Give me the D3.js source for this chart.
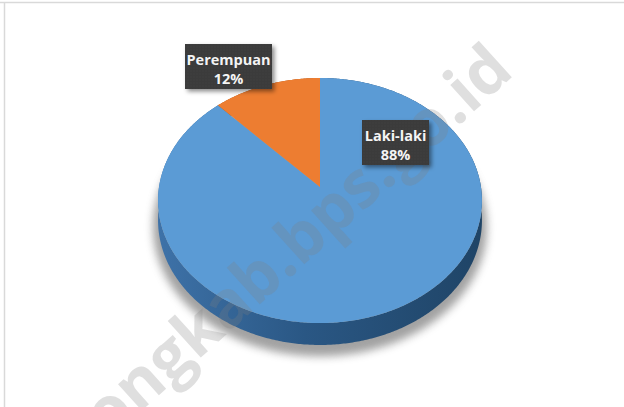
<!DOCTYPE html>
<html>
<head>
<meta charset="utf-8">
<script src="https://cdn.jsdelivr.net/npm/d3@7"></script>
<style>
  html, body { margin: 0; padding: 0; background: #ffffff; }
  svg { display: block; }
</style>
</head>
<body>
<svg id="chart" width="624" height="407"></svg>
<script>
// Share of workers by sex
const categories = ["Laki-laki", "Perempuan"];
const values = [88, 12];
const valueLabels = ["88%", "12%"];

const topColors = ["#5b9bd5", "#ed7d31"];
const sideColors = ["url(#sideBlue)", "#a8561f"];

// label box placement (centre x, centre y, width, height)
const labelBoxes = [
  { cx: 395.5, cy: 142.5, w: 67, h: 45 },
  { cx: 228.5, cy: 66.5, w: 87, h: 45 }
];

const W = 624, H = 407;
const svg = d3.select("#chart");
const defs = svg.append("defs");

// soft shadow under the disc
defs.append("filter").attr("id", "blur").attr("x", "-20%").attr("y", "-20%")
  .attr("width", "140%").attr("height", "140%")
  .append("feGaussianBlur").attr("stdDeviation", 4.5);

// drop shadow for the label boxes
const ds = defs.append("filter").attr("id", "boxShadow")
  .attr("x", "-20%").attr("y", "-20%").attr("width", "150%").attr("height", "160%");
ds.append("feDropShadow").attr("dx", 2.5).attr("dy", 2.5)
  .attr("stdDeviation", 2).attr("flood-color", "#000").attr("flood-opacity", 0.45);

// dotted texture for the label boxes
const pat = defs.append("pattern").attr("id", "dots")
  .attr("width", 3).attr("height", 3).attr("patternUnits", "userSpaceOnUse");
pat.append("rect").attr("width", 3).attr("height", 3).attr("fill", "#3a3a3a");
pat.append("rect").attr("x", 1).attr("y", 1).attr("width", 1).attr("height", 1).attr("fill", "#474747");

// side wall shading
const g1 = defs.append("linearGradient").attr("id", "sideBlue")
  .attr("gradientUnits", "userSpaceOnUse")
  .attr("x1", 158).attr("y1", 0).attr("x2", 484).attr("y2", 0);
g1.append("stop").attr("offset", "0%").attr("stop-color", "#3e72a8");
g1.append("stop").attr("offset", "45%").attr("stop-color", "#2a5784");
g1.append("stop").attr("offset", "100%").attr("stop-color", "#1f4466");

// frame lines (top and left)
svg.append("line").attr("x1", 0).attr("x2", W).attr("y1", 2.5).attr("y2", 2.5)
  .attr("stroke", "#d9d9d9").attr("stroke-width", 1.5);
svg.append("line").attr("x1", 4.5).attr("x2", 4.5).attr("y1", 2).attr("y2", H)
  .attr("stroke", "#d9d9d9").attr("stroke-width", 1.5);

// perspective projection of the tilted disc
const cx = 320, cy = 187, Dv = 9.07, Ay = 1098, Bx = 1460, depth = 19.5;
function proj(a, r, z) {
  const u = r * Math.sin(a), v = -r * Math.cos(a);
  const s = 1 / (Dv - v);
  return [cx + Bx * u * s, cy + Ay * v * s + z * depth * Dv * s];
}
function arcPoints(a0, a1, r, z) {
  const n = Math.max(2, Math.ceil((a1 - a0) / 0.01));
  return d3.range(n + 1).map(i => proj(a0 + (a1 - a0) * i / n, r, z));
}
const line = d3.line();

const pie = d3.pie().sort(null).value(d => d.value);
const arcs = pie(categories.map((c, i) => ({ name: c, value: values[i], i })));

// shadow below the disc
const shadowPts = arcPoints(0, 2 * Math.PI, 1.03, 1.3);
svg.append("path").attr("d", line(shadowPts) + "Z")
  .attr("fill", "#7a7a7a").attr("opacity", 0.7).attr("filter", "url(#blur)");

// side walls
svg.append("g").selectAll("path").data(arcs).join("path")
  .attr("d", d => {
    const topPts = arcPoints(d.startAngle, d.endAngle, 1, 0);
    const botPts = arcPoints(d.startAngle, d.endAngle, 1, 1).reverse();
    return line(topPts.concat(botPts)) + "Z";
  })
  .attr("fill", d => sideColors[d.data.i]);

// top faces
svg.append("g").selectAll("path").data(arcs).join("path")
  .attr("d", d => line([[cx, cy]].concat(arcPoints(d.startAngle, d.endAngle, 1, 0))) + "Z")
  .attr("fill", d => topColors[d.data.i]);

// site watermark
svg.append("text")
  .attr("transform", "translate(108,441) rotate(-42)")
  .attr("font-family", "'Open Sans', sans-serif")
  .attr("font-weight", 700)
  .attr("font-size", 65)
  .attr("fill", "#7f7f7f")
  .attr("fill-opacity", 0.25)
  .text("ongkab.bps.go.id");

// data labels
const lg = svg.append("g").selectAll("g").data(arcs).join("g")
  .attr("transform", d => `translate(${labelBoxes[d.data.i].cx},${labelBoxes[d.data.i].cy})`);
lg.append("rect")
  .attr("x", d => -labelBoxes[d.data.i].w / 2)
  .attr("y", d => -labelBoxes[d.data.i].h / 2)
  .attr("width", d => labelBoxes[d.data.i].w)
  .attr("height", d => labelBoxes[d.data.i].h)
  .attr("fill", "url(#dots)")
  .attr("filter", "url(#boxShadow)");
lg.append("text")
  .attr("text-anchor", "middle")
  .attr("font-family", "'Open Sans', sans-serif")
  .attr("font-weight", 700)
  .attr("font-size", 14.5)
  .attr("fill", "#f4f4f4")
  .selectAll("tspan")
  .data(d => [d.data.name, valueLabels[d.data.i]])
  .join("tspan")
  .attr("x", 0)
  .attr("y", (t, j) => j === 0 ? -1.5 : 17.5)
  .text(t => t);
</script>
</body>
</html>
